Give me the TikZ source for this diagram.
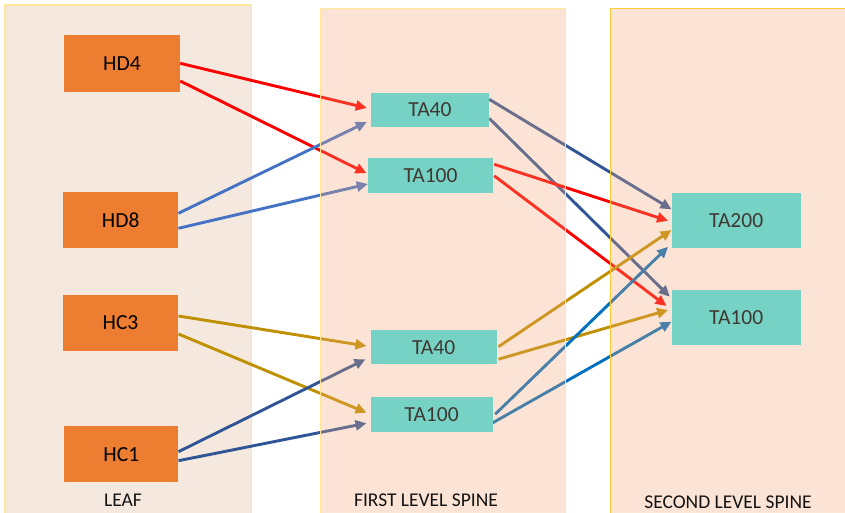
\documentclass[tikz,border=0pt]{standalone}
\usepackage{fontspec}
\setmainfont{Carlito}
\usetikzlibrary{arrows.meta}
\definecolor{leaffill}{RGB}{245,233,223}
\definecolor{panfill}{RGB}{242,168,118}
\definecolor{panedge}{RGB}{255,230,153}
\definecolor{panedgeB}{RGB}{255,204,51}
\definecolor{hbox}{RGB}{237,125,49}
\definecolor{tbox}{RGB}{118,210,196}
\definecolor{ttext}{RGB}{64,56,50}
\definecolor{ared}{RGB}{255,0,0}
\definecolor{ablue}{RGB}{68,114,196}
\definecolor{adark}{RGB}{47,85,151}
\definecolor{agold}{RGB}{191,144,0}
\definecolor{asteel}{RGB}{0,112,192}
\pgfdeclarelayer{bg}\pgfdeclarelayer{arr}\pgfdeclarelayer{pan}
\pgfsetlayers{bg,arr,pan,main}
\begin{document}
\begin{tikzpicture}[x=1pt,y=-1pt,
  hnode/.style={fill=hbox, text=black, minimum width=115pt, minimum height=55.5pt, inner sep=0pt, font=\fontsize{21.5}{24}\selectfont},
  tnode/.style={fill=tbox, text=ttext, inner sep=0pt, font=\fontsize{21.5}{24}\selectfont},
  link/.style={line width=2.9pt, -{Triangle[length=11pt,width=10pt]}},
  lbl/.style={font=\fontsize{19.5}{22}\selectfont, text=black!92, anchor=base, inner sep=0pt}]
\useasboundingbox (0,0) rectangle (845,512);
% panels
\begin{pgfonlayer}{bg}
  \fill[white] (0,0) rectangle (845,512);
  \draw[fill=leaffill, draw=panedge, line width=1.5pt] (5,5) rectangle (251.5,516);
\end{pgfonlayer}
\begin{pgfonlayer}{pan}
  \draw[fill=panfill, fill opacity=0.3, draw=panedge, line width=1pt] (320.7,8.5) rectangle (565,516);
  \draw[fill=panfill, fill opacity=0.3, draw=panedgeB, line width=0.9pt] (610,8.5) rectangle (850,516);
\end{pgfonlayer}
% nodes
\node[hnode, minimum width=116pt, minimum height=56.7pt] (HD4) at (122,63.3) {HD4};
\node[hnode] (HD8) at (120.7,219.8) {HD8};
\node[hnode, minimum width=115.6pt] (HC3) at (120.5,322.8) {HC3};
\node[hnode, minimum width=114pt] (HC1) at (121.3,454.2) {HC1};
\node[tnode, minimum width=118pt, minimum height=34.6pt] (TA40a) at (430,110) {TA40};
\node[tnode, minimum width=124.4pt, minimum height=35pt] (TA100a) at (430.5,175.8) {TA100};
\node[tnode, minimum width=126pt, minimum height=34.3pt] (TA40b) at (433.7,347.2) {TA40};
\node[tnode, minimum width=122pt, minimum height=35pt] (TA100b) at (431.7,414.2) {TA100};
\node[tnode, minimum width=129pt, minimum height=55pt] (TA200) at (736.2,220.8) {TA200};
\node[tnode, minimum width=129pt, minimum height=55pt] (TA100c) at (736.2,317.5) {TA100};
% labels
\node[lbl] (lleaf) at (123,506.7) {LEAF};
\node[lbl] (lfirst) at (426,506.7) {FIRST LEVEL SPINE};
\node[lbl] (lsecond) at (728,508) {SECOND LEVEL SPINE};
% connectors
\begin{pgfonlayer}{arr}
  \draw[link, ared] (HD4.east) -- ([xshift=-4pt,yshift=2pt]TA40a.west);
  \draw[link, ared] ([yshift=-17.7pt]HD4.east) -- ([xshift=-1.6pt,yshift=2.5pt]TA100a.west);
  \draw[link, ablue] ([yshift=6.5pt]HD8.east) -- ([xshift=-4pt,yshift=-12pt]TA40a.west);
  \draw[link, ablue] ([yshift=-8.5pt]HD8.east) -- ([xshift=-0.3pt,yshift=-8.2pt]TA100a.west);
  \draw[link, agold] ([yshift=6.8pt]HC3.east) -- ([xshift=-4pt,yshift=1.2pt]TA40b.west);
  \draw[link, agold] ([yshift=-11.2pt]HC3.east) -- ([xshift=-4pt,yshift=1.5pt]TA100b.west);
  \draw[link, adark] ([yshift=2.5pt]HC1.east) -- ([xshift=-5pt,yshift=-12pt]TA40b.west);
  \draw[link, adark] ([yshift=-6.5pt]HC1.east) -- ([xshift=-4pt,yshift=-9pt]TA100b.west);
  \draw[link, adark] ([yshift=10.7pt]TA40a.east) -- ([yshift=11.5pt]TA200.west);
  \draw[link, adark] ([yshift=-8.3pt]TA40a.east) -- ([xshift=-1.7pt,yshift=20.8pt]TA100c.west);
  \draw[link, ared] ([xshift=1.3pt,yshift=11.5pt]TA100a.east) -- ([xshift=-3.4pt]TA200.west);
  \draw[link, ared] ([xshift=1.3pt]TA100a.east) -- ([xshift=-5pt,yshift=11.5pt]TA100c.west);
  \draw[link, agold] ([xshift=1.6pt,yshift=0.5pt]TA40b.east) -- ([yshift=-9.2pt]TA200.west);
  \draw[link, agold] ([xshift=1.6pt,yshift=-12pt]TA40b.east) -- ([xshift=-3.4pt,yshift=7.5pt]TA100c.west);
  \draw[link, asteel] ([xshift=2.3pt]TA100b.east) -- ([xshift=-3.4pt,yshift=-26pt]TA200.west);
  \draw[link, asteel] ([xshift=-2.7pt,yshift=-10pt]TA100b.east) -- ([yshift=-4.2pt]TA100c.west);
\end{pgfonlayer}
\end{tikzpicture}
\end{document}
